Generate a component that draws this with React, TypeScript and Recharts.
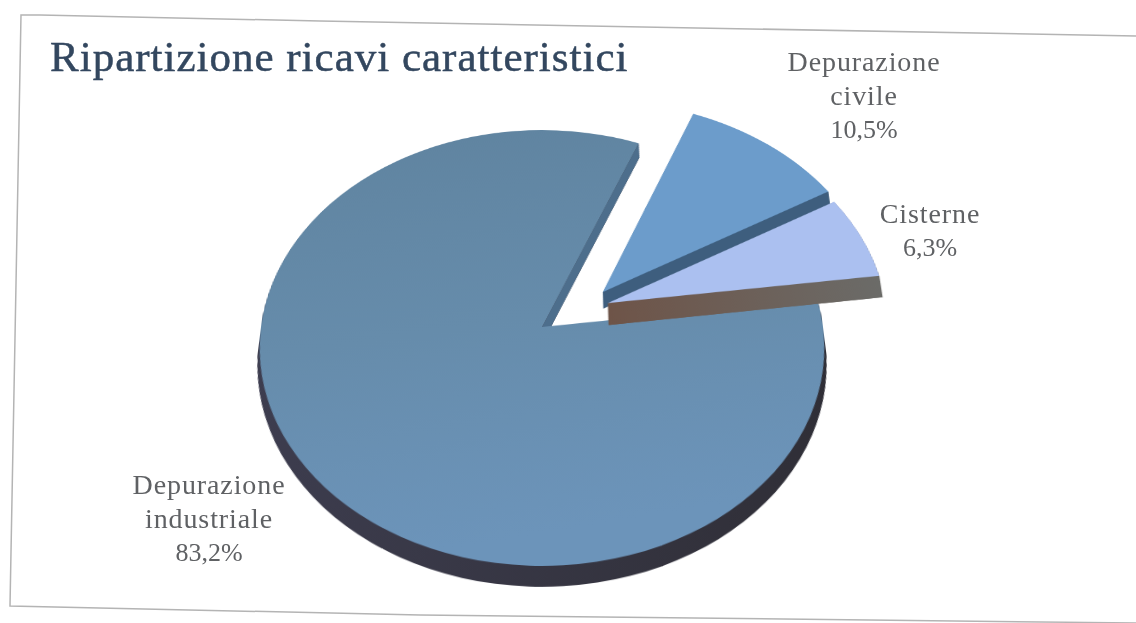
import { Pie, PieChart, Sector } from "recharts";

const categories = ["Depurazione industriale", "Depurazione civile", "Cisterne"];
const shares = [83.2, 10.5, 6.3];
const labelLines = [
  ["Depurazione", "industriale"],
  ["Depurazione", "civile"],
  ["Cisterne"],
];

const topColors = ["url(#mainTop)", "#6c9ccb", "#abc0f0"];
const rimColors = ["url(#mainWall)", "#3e5e7e", "url(#tankWall)"];
const edgeColors = ["#4d6e8c", "#3e5e7e", "url(#tankWall)"];
// how far each slice is pulled out of the pie, as fractions of the radius
const pullX = [0, 0.22, 0.237];
const pullY = [0, 0.165, 0.112];
// wall height of each slice, in the plane of the pie
const wallHeight = [22, 22, 29];

const RADIUS = 281;
const BOX = 800;

const data = categories.map((name, index) => ({ name, value: shares[index], index }));

const formatShare = (value: number) => `${value.toFixed(1).replace(".", ",")}%`;

function ExtrudedSlice(props: any) {
  const { cx, cy, outerRadius, startAngle, endAngle, payload } = props;
  const index = payload.index;
  const rad = Math.PI / 180;
  const x = cx + pullX[index] * outerRadius;
  const y = cy - pullY[index] * outerRadius;
  const height = wallHeight[index];

  const layers = [];
  for (let d = height; d > 0; d -= 1.5) {
    layers.push(
      <Sector
        key={d}
        cx={x}
        cy={y + d}
        innerRadius={0}
        outerRadius={outerRadius}
        startAngle={startAngle}
        endAngle={endAngle}
        fill={rimColors[index]}
        stroke="none"
      />
    );
  }

  const edgeX = x + outerRadius * Math.cos(endAngle * rad);
  const edgeY = y - outerRadius * Math.sin(endAngle * rad);

  return (
    <g>
      {layers}
      <path
        d={`M${x},${y} L${edgeX},${edgeY} L${edgeX},${edgeY + height} L${x},${y + height} Z`}
        fill={edgeColors[index]}
      />
      <Sector
        cx={x}
        cy={y}
        innerRadius={0}
        outerRadius={outerRadius}
        startAngle={startAngle}
        endAngle={endAngle}
        fill={topColors[index]}
        stroke="none"
      />
    </g>
  );
}

function SliceLabel({ index, centerX, top }: { index: number; centerX: number; top: number }) {
  return (
    <div
      style={{
        position: "absolute",
        left: centerX - 120,
        top,
        width: 240,
        textAlign: "center",
        fontFamily: "'Liberation Serif', serif",
        fontSize: 28,
        lineHeight: "34px",
        letterSpacing: 0.9,
        color: "#5f6164",
      }}
    >
      {labelLines[index].map((line) => (
        <div key={line}>{line}</div>
      ))}
      <div style={{ fontSize: 26, letterSpacing: 0 }}>{formatShare(shares[index])}</div>
    </div>
  );
}

export default function App() {
  return (
    <div
      style={{
        position: "fixed",
        left: 0,
        top: 0,
        width: 1136,
        height: 623,
        overflow: "hidden",
        background: "#ffffff",
      }}
    >
      {/* page edges */}
      <svg width={1136} height={623} style={{ position: "absolute", left: 0, top: 0 }}>
        <polyline
          points="1136,36 320,21 40,15 21,15 10,606 420,615 1136,623"
          fill="none"
          stroke="#b4b4b4"
          strokeWidth={1.5}
        />
      </svg>

      <div
        style={{
          position: "absolute",
          left: 542 - BOX / 2,
          top: 327 - BOX / 2,
          width: BOX,
          height: BOX,
          transformOrigin: "50% 50%",
          transform: "perspective(1863px) rotateX(39.8deg)",
        }}
      >
        <PieChart width={BOX} height={BOX} margin={{ top: 0, right: 0, bottom: 0, left: 0 }}>
          <defs>
            <linearGradient id="mainTop" x1="0" y1="0" x2="0.2" y2="1">
              <stop offset="0%" stopColor="#5f839f" />
              <stop offset="55%" stopColor="#668cab" />
              <stop offset="100%" stopColor="#6c94ba" />
            </linearGradient>
            <linearGradient id="mainWall" x1="0" y1="0" x2="1" y2="0">
              <stop offset="0%" stopColor="#3d3d4f" />
              <stop offset="100%" stopColor="#2f2e36" />
            </linearGradient>
            <linearGradient id="tankWall" x1="0" y1="0" x2="1" y2="0">
              <stop offset="0%" stopColor="#6e5448" />
              <stop offset="100%" stopColor="#6b6b68" />
            </linearGradient>
          </defs>
          <Pie
            data={data}
            dataKey="value"
            nameKey="name"
            cx={BOX / 2}
            cy={BOX / 2}
            innerRadius={0}
            outerRadius={RADIUS}
            startAngle={7.5}
            endAngle={-352.5}
            stroke="none"
            shape={ExtrudedSlice}
            isAnimationActive={false}
          />
        </PieChart>
      </div>

      <div
        style={{
          position: "absolute",
          left: 50,
          top: 34,
          fontFamily: "'Liberation Serif', serif",
          fontSize: 43,
          lineHeight: "46px",
          letterSpacing: 1,
          whiteSpace: "nowrap",
          color: "#33475f",
          WebkitTextStroke: "0.5px #33475f",
        }}
      >
        Ripartizione ricavi caratteristici
      </div>

      <SliceLabel index={1} centerX={864} top={45} />
      <SliceLabel index={2} centerX={930} top={197} />
      <SliceLabel index={0} centerX={209} top={468} />
    </div>
  );
}
